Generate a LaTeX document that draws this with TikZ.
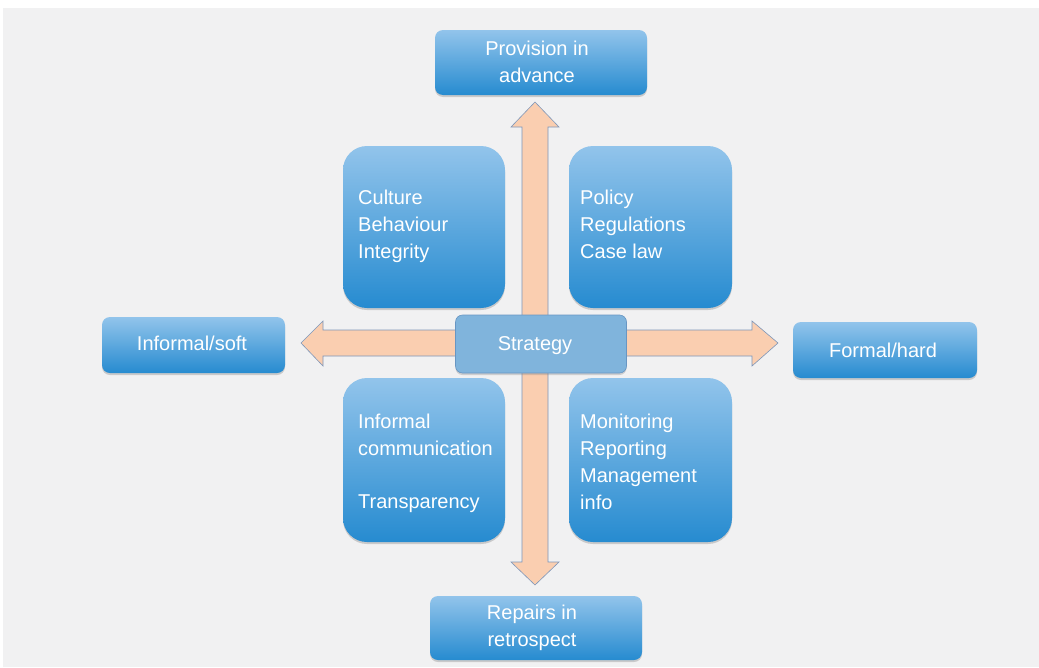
\documentclass[tikz,border=0pt]{standalone}
\usepackage{fontspec}
\setmainfont{Liberation Sans}
\usetikzlibrary{shadows}
\definecolor{bggray}{RGB}{241,241,242}
\definecolor{boxtop}{RGB}{146,196,235}
\definecolor{boxbot}{RGB}{38,139,208}
\definecolor{stratfill}{RGB}{128,180,220}
\definecolor{stratline}{RGB}{104,150,195}
\definecolor{peach}{RGB}{250,206,176}
\definecolor{arrline}{RGB}{125,150,185}
\tikzset{
  gbox/.style={rectangle, top color=boxtop, bottom color=boxbot, draw=none,
    drop shadow={shadow xshift=0pt, shadow yshift=-2pt, opacity=0.35}},
  bigbox/.style={gbox, rounded corners=24pt},
  smallbox/.style={gbox, rounded corners=8pt},
  btext/.style={text=white, font=\fontsize{20}{27}\selectfont, inner sep=0pt, align=left, anchor=north west},
  ctext/.style={text=white, font=\fontsize{20}{27}\selectfont, inner sep=0pt, align=center},
  bigarrow/.style={fill=peach, draw=arrline, line width=0.6pt, line join=miter},
}
\begin{document}
\begin{tikzpicture}[x=1pt,y=-1pt]
\useasboundingbox (0,0) rectangle (1039,667);
\fill[white] (0,0) rectangle (1039,667);
\fill[bggray] (3,8) rectangle (1039,667);

% arrows
\coordinate (vt) at (535,102);
\coordinate (vb) at (535,585);
\coordinate (hl) at (301,343);
\coordinate (hr) at (778,343);
\draw[bigarrow] (hl) -- ++(22,-22) -- ++(0,9) -- ++(429,0) -- ++(0,-9) -- (hr)
  -- ++(-26,23) -- ++(0,-10) -- ++(-429,0) -- ++(0,10) -- cycle;
\draw[bigarrow] (vt) -- ++(24,25) -- ++(-11,0) -- ++(0,435) -- ++(11,0) -- (vb)
  -- ++(-24,-23) -- ++(11,0) -- ++(0,-435) -- ++(-11,0) -- cycle;

% outer boxes
\node[smallbox, minimum width=212pt, minimum height=65pt] (top) at (541,62.5) {};
\node[ctext] (toptext) at (537,62) {Provision in\\advance};
\node[smallbox, minimum width=212pt, minimum height=64pt] (bot) at (536,628) {};
\node[ctext] (bottext) at (532,628) {Repairs in\\retrospect};
\node[smallbox, minimum width=183pt, minimum height=56pt] (left) at (193.5,345) {};
\node[ctext, anchor=base] (lefttext) at (192,350) {Informal/soft};
\node[smallbox, minimum width=184pt, minimum height=56pt] (right) at (885,350) {};
\node[ctext, anchor=base] (righttext) at (883,357) {Formal/hard};

% quadrant boxes
\node[bigbox, minimum width=162pt, minimum height=162pt] (q1) at (424,227) {};
\node[btext] (q1t) at (358,189.5) {Culture\\Behaviour\\Integrity};
\node[bigbox, minimum width=163pt, minimum height=162pt] (q2) at (650.5,227) {};
\node[btext] (q2t) at (580,189.5) {Policy\\Regulations\\Case law};
\node[bigbox, minimum width=162pt, minimum height=164pt] (q3) at (424,460) {};
\node[btext] (q3t) at (358,413.5) {Informal\\communication\\[26pt]Transparency};
\node[bigbox, minimum width=163pt, minimum height=164pt] (q4) at (650.5,460) {};
\node[btext] (q4t) at (580,413.5) {Monitoring\\Reporting\\Management\\info};

% centre
\node[rectangle, rounded corners=7pt, fill=stratfill, draw=stratline, line width=0.6pt,
  minimum width=171pt, minimum height=58pt,
  drop shadow={shadow xshift=0pt, shadow yshift=-2pt, opacity=0.3}] (strat) at (541,344) {};
\node[ctext, anchor=base] (strattext) at (535,350) {Strategy};
\end{tikzpicture}
\end{document}
